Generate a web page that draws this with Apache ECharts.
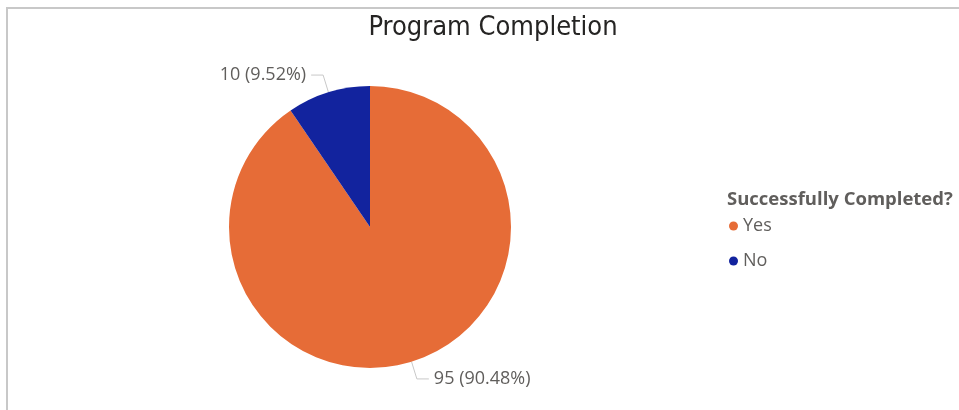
<!DOCTYPE html>
<html>
<head>
<meta charset="utf-8">
<script src="https://cdn.jsdelivr.net/npm/echarts@6/dist/echarts.min.js"></script>
<style>
  html, body { margin: 0; padding: 0; background: #fff; overflow: hidden; width: 959px; height: 410px; }
  #frame { position: absolute; left: 6px; top: 7px; width: 1000px; height: 500px;
           border-left: 2px solid #c8c8c8; border-top: 2px solid #c8c8c8; }
  #main { position: absolute; left: 0; top: 0; width: 959px; height: 410px; }
</style>
</head>
<body>
<div id="frame"></div>
<div id="main"></div>
<script>
// 数据
var categories = ['Yes', 'No'];
var counts = [95, 10];
var colors = ['#E66C37', '#12239E'];

var chart = echarts.init(document.getElementById('main'));

var pieData = [];
for (var i = 0; i < categories.length; i++) {
    pieData.push({ name: categories[i], value: counts[i], itemStyle: { color: colors[i] } });
}

var option = {
    title: [{
        text: 'Program Completion',
        left: 488,
        textAlign: 'center',
        top: 9,
        textStyle: { fontFamily: 'DejaVu Sans Condensed', fontSize: 27, fontWeight: 'normal', color: '#252423' }
    }, {
        text: 'Successfully Completed?',
        left: 722,
        top: 185,
        textStyle: { fontFamily: 'Open Sans', fontSize: 18.5, fontWeight: 'bold', color: '#605E5C' }
    }],
    legend: {
        orient: 'vertical',
        left: 729,
        top: 217,
        padding: 0,
        icon: 'circle',
        itemWidth: 9,
        itemHeight: 9,
        itemGap: 17,
        textStyle: { fontFamily: 'Open Sans', fontSize: 18, color: '#605E5C' },
        data: categories
    },
    series: [{
        name: 'Successfully Completed?',
        type: 'pie',
        center: [370, 227],
        radius: 141,
        startAngle: 90,
        clockwise: true,
        avoidLabelOverlap: false,
        label: {
            formatter: '{c} ({d}%)',
            fontFamily: 'Open Sans',
            fontSize: 18,
            color: '#605E5C'
        },
        labelLine: {
            length: 18,
            length2: 12,
            lineStyle: { color: '#c8c8c8', width: 1 }
        },
        data: pieData
    }]
};

chart.setOption(option);
</script>
</body>
</html>
